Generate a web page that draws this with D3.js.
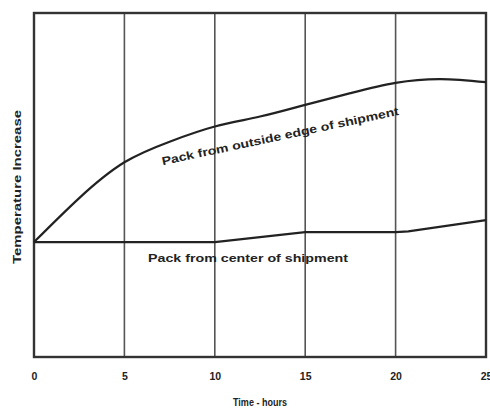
<!DOCTYPE html>
<html>
<head>
<meta charset="utf-8">
<script src="https://cdn.jsdelivr.net/npm/d3@7"></script>
<style>
  html, body { margin: 0; padding: 0; background: #fff; }
  svg { display: block; }
  text { font-family: "Liberation Sans", Arial, sans-serif; fill: #222; }
</style>
</head>
<body>
<svg id="chart" width="490" height="408"></svg>
<script>
// Time axis (hours) and tick labels
const hourTicks = [0, 5, 10, 15, 20, 25];
const tickLabels = ["0", "5", "10", "15", "20", "25"];

// Relative temperature rise for a pack taken from the outside edge of the load
const outsideHours = [0, 2.5, 5, 7.5, 10, 12.5, 15, 17.5, 20, 22.5, 25];
const outsideTemp  = [33.4, 46.2, 56.6, 62.6, 67.0, 69.9, 73.3, 76.7, 79.7, 80.8, 79.9];

// Relative temperature rise for a pack taken from the centre of the load
const centerHours = [0, 5, 10, 15, 20, 20.7, 25];
const centerTemp  = [33.4, 33.4, 33.4, 36.3, 36.3, 36.5, 39.8];

const svg = d3.select("#chart");
const plotLeft = 34, plotRight = 486, plotTop = 13, plotBottom = 357;

const x = d3.scaleLinear().domain([0, 25]).range([plotLeft, plotRight]);
const y = d3.scaleLinear().domain([0, 100]).range([plotBottom, plotTop]);

// vertical grid lines
svg.append("g")
  .selectAll("line")
  .data(hourTicks.filter(h => h > 0 && h < 25))
  .join("line")
  .attr("x1", d => x(d)).attr("x2", d => x(d))
  .attr("y1", plotTop).attr("y2", plotBottom)
  .attr("stroke", "#555").attr("stroke-width", 1.6);

// plot frame
svg.append("rect")
  .attr("x", plotLeft).attr("y", plotTop)
  .attr("width", plotRight - plotLeft).attr("height", plotBottom - plotTop)
  .attr("fill", "none").attr("stroke", "#333").attr("stroke-width", 2.4);

// x axis tick labels
const xAxis = d3.axisBottom(x)
  .tickValues(hourTicks)
  .tickFormat((d, i) => tickLabels[i])
  .tickSize(0).tickPadding(16);
const gx = svg.append("g").attr("transform", `translate(0,${plotBottom})`).call(xAxis);
gx.select(".domain").remove();
gx.selectAll("text")
  .attr("font-size", 10.5).attr("font-weight", "bold")
  .style("font-family", "'Liberation Sans', Arial, sans-serif")
  .attr("fill", "#333");

// curves
svg.append("path")
  .datum(outsideHours.map((h, i) => [h, outsideTemp[i]]))
  .attr("d", d3.line().x(d => x(d[0])).y(d => y(d[1])).curve(d3.curveNatural))
  .attr("fill", "none").attr("stroke", "#222").attr("stroke-width", 2.2);

svg.append("path")
  .datum(centerHours.map((h, i) => [h, centerTemp[i]]))
  .attr("d", d3.line().x(d => x(d[0])).y(d => y(d[1])).curve(d3.curveLinear))
  .attr("fill", "none").attr("stroke", "#222").attr("stroke-width", 2.2);

// curve labels
svg.append("text")
  .attr("transform", "translate(281,140) rotate(-12)")
  .attr("text-anchor", "middle")
  .attr("font-size", 11.5).attr("font-weight", "bold")
  .attr("textLength", 242).attr("lengthAdjust", "spacingAndGlyphs")
  .text("Pack from outside edge of shipment");

svg.append("text")
  .attr("x", 248).attr("y", 262)
  .attr("text-anchor", "middle")
  .attr("font-size", 11).attr("font-weight", "bold")
  .attr("textLength", 200).attr("lengthAdjust", "spacingAndGlyphs")
  .text("Pack from center of shipment");

// axis titles
svg.append("text")
  .attr("transform", "translate(21,187) rotate(-90)")
  .attr("text-anchor", "middle")
  .attr("font-size", 10).attr("font-weight", "bold")
  .attr("textLength", 154).attr("lengthAdjust", "spacingAndGlyphs")
  .text("Temperature Increase");

svg.append("text")
  .attr("x", 260).attr("y", 406)
  .attr("text-anchor", "middle")
  .attr("font-size", 10).attr("font-weight", "bold")
  .attr("textLength", 54).attr("lengthAdjust", "spacingAndGlyphs")
  .text("Time - hours");
</script>
</body>
</html>
